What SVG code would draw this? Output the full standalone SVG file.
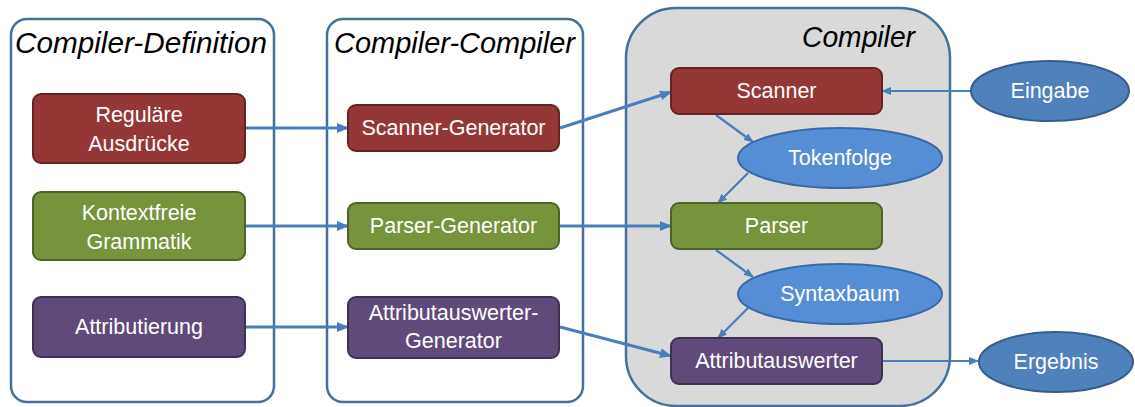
<svg xmlns="http://www.w3.org/2000/svg" width="1135" height="407" viewBox="0 0 1135 407">
<style>
.cont{fill:#FFFFFF;stroke:#41719C;stroke-width:2.5}
.gray{fill:#D9D9D9;stroke:#41719C;stroke-width:2.5}
.title{font-family:"Liberation Sans",Arial,sans-serif;font-style:italic;font-size:29.5px;fill:#000}
.lbl{font-family:"Liberation Sans",Arial,sans-serif;font-size:21.5px;fill:#FFFFFF;text-anchor:middle}
.red{fill:#953735;stroke:#632523;stroke-width:2}
.green{fill:#77933C;stroke:#4F6228;stroke-width:2}
.purple{fill:#604A7B;stroke:#3F3151;stroke-width:2}
.ell1{fill:#558ED5;stroke:#3A6AA6;stroke-width:2}
.ell2{fill:#4F81BD;stroke:#385D8A;stroke-width:2}
.thick{fill:none;stroke:#4A7EBB;stroke-width:3;marker-end:url(#ah)}
.thin{fill:none;stroke:#4A7EBB;stroke-width:2.2;marker-end:url(#ah2)}
</style>
<defs>
<marker id="ah" viewBox="0 0 12 10" refX="11" refY="5" markerWidth="12" markerHeight="10" markerUnits="userSpaceOnUse" orient="auto">
<path d="M0,0 L12,5 L0,10 z" fill="#4A7EBB"/>
</marker>
<marker id="ah2" viewBox="0 0 10 8" refX="9" refY="4" markerWidth="10" markerHeight="8" markerUnits="userSpaceOnUse" orient="auto">
<path d="M0,0 L10,4 L0,8 z" fill="#4A7EBB"/>
</marker>
</defs>

<g id="container-definition">
<rect class="cont" x="11" y="19" width="263" height="383" rx="16"/>
<text class="title" x="15" y="53" textLength="252" lengthAdjust="spacingAndGlyphs">Compiler-Definition</text>
</g>
<g id="container-compiler-compiler">
<rect class="cont" x="327" y="19" width="256" height="383" rx="16"/>
<text class="title" x="334" y="53" textLength="241" lengthAdjust="spacingAndGlyphs">Compiler-Compiler</text>
</g>
<g id="container-compiler">
<rect class="gray" x="626" y="8" width="324" height="398" rx="50"/>
<text class="title" x="802" y="47" textLength="113" lengthAdjust="spacingAndGlyphs">Compiler</text>
</g>

<g id="connectors">
<line class="thick" x1="245" y1="128" x2="348" y2="128"/>
<line class="thick" x1="245" y1="226" x2="348" y2="226"/>
<line class="thick" x1="245" y1="327" x2="348" y2="327"/>
<line class="thick" x1="560" y1="128" x2="671" y2="92"/>
<line class="thick" x1="560" y1="226" x2="671" y2="226"/>
<line class="thick" x1="560" y1="327" x2="671" y2="356"/>
<line class="thin" x1="971" y1="91" x2="882" y2="91"/>
<line class="thin" x1="716" y1="115" x2="753" y2="142"/>
<line class="thin" x1="748" y1="173" x2="718" y2="203"/>
<line class="thin" x1="716" y1="250" x2="753" y2="277"/>
<line class="thin" x1="748" y1="308" x2="718" y2="338"/>
<line class="thin" x1="882" y1="361" x2="978" y2="361"/>
</g>

<g id="regulaere-ausdruecke">
<rect class="red" x="33" y="94" width="212" height="69" rx="8"/>
<text class="lbl" x="139" y="122">Reguläre</text>
<text class="lbl" x="139" y="151">Ausdrücke</text>
</g>
<g id="kontextfreie-grammatik">
<rect class="green" x="33" y="192" width="212" height="68" rx="8"/>
<text class="lbl" x="139" y="220">Kontextfreie</text>
<text class="lbl" x="139" y="249">Grammatik</text>
</g>
<g id="attributierung">
<rect class="purple" x="33" y="297" width="212" height="60" rx="8"/>
<text class="lbl" x="139" y="334">Attributierung</text>
</g>

<g id="scanner-generator">
<rect class="red" x="348" y="105" width="211" height="46" rx="8"/>
<text class="lbl" x="453.5" y="135">Scanner-Generator</text>
</g>
<g id="parser-generator">
<rect class="green" x="348" y="203" width="211" height="46" rx="8"/>
<text class="lbl" x="453.5" y="233">Parser-Generator</text>
</g>
<g id="attributauswerter-generator">
<rect class="purple" x="348" y="297" width="211" height="61" rx="8"/>
<text class="lbl" x="453.5" y="320">Attributauswerter-</text>
<text class="lbl" x="453.5" y="348">Generator</text>
</g>

<g id="scanner">
<rect class="red" x="671" y="68" width="211" height="46" rx="8"/>
<text class="lbl" x="776.5" y="98">Scanner</text>
</g>
<g id="tokenfolge">
<ellipse class="ell1" cx="840" cy="158" rx="102" ry="30"/>
<text class="lbl" x="840" y="165">Tokenfolge</text>
</g>
<g id="parser">
<rect class="green" x="671" y="203" width="211" height="46" rx="8"/>
<text class="lbl" x="776.5" y="233">Parser</text>
</g>
<g id="syntaxbaum">
<ellipse class="ell1" cx="840" cy="294" rx="102" ry="30"/>
<text class="lbl" x="840" y="301">Syntaxbaum</text>
</g>
<g id="attributauswerter">
<rect class="purple" x="671" y="338" width="211" height="46" rx="8"/>
<text class="lbl" x="776.5" y="368">Attributauswerter</text>
</g>
<g id="eingabe">
<ellipse class="ell2" cx="1050" cy="91" rx="79" ry="30"/>
<text class="lbl" x="1050" y="98">Eingabe</text>
</g>
<g id="ergebnis">
<ellipse class="ell2" cx="1056" cy="362" rx="77" ry="30"/>
<text class="lbl" x="1056" y="369">Ergebnis</text>
</g>
</svg>
